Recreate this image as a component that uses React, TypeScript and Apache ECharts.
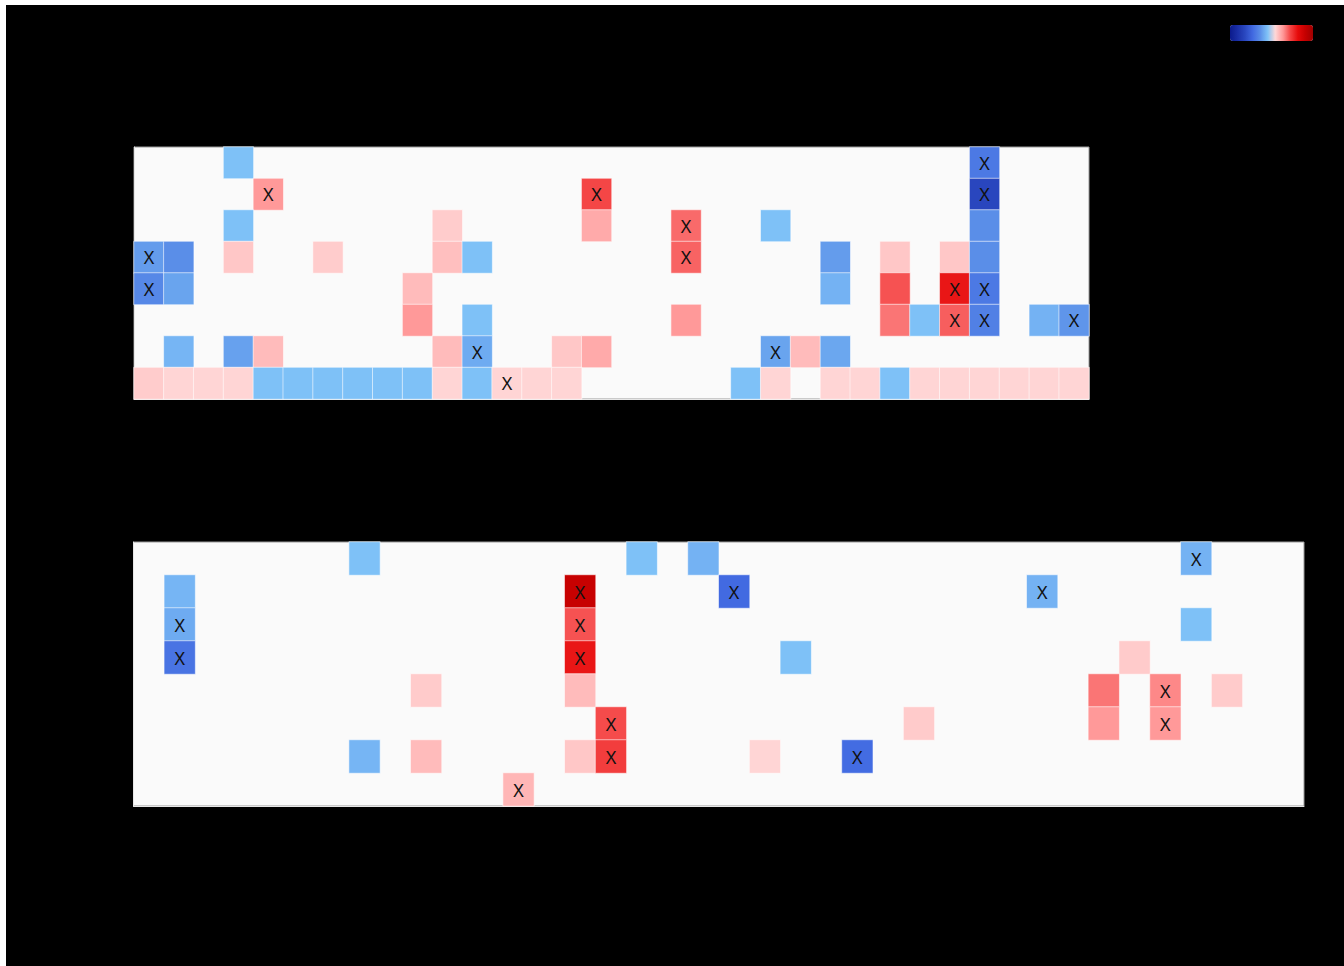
import React, { useEffect, useRef } from "react";
import * as echarts from "echarts";

// upper panel: 32 columns x 8 rows, [col, row, value, marked]
const topCols = Array.from({ length: 32 }, (_, i) => `C${i + 1}`);
const topRows = ["R1", "R2", "R3", "R4", "R5", "R6", "R7", "R8"];
const topCells: number[][] = [
  [3, 0, -0.2, 0], [28, 0, -0.75, 1],
  [4, 1, 0.55, 1], [15, 1, 0.9, 1], [28, 1, -1.3, 1],
  [3, 2, -0.2, 0], [10, 2, 0.25, 0], [15, 2, 0.45, 0], [18, 2, 0.75, 1], [21, 2, -0.2, 0], [28, 2, -0.55, 0],
  [0, 3, -0.45, 1], [1, 3, -0.55, 0], [3, 3, 0.28, 0], [6, 3, 0.25, 0], [10, 3, 0.33, 0], [11, 3, -0.2, 0],
  [18, 3, 0.78, 1], [23, 3, -0.45, 0], [25, 3, 0.28, 0], [27, 3, 0.28, 0], [28, 3, -0.55, 0],
  [0, 4, -0.6, 1], [1, 4, -0.4, 0], [9, 4, 0.35, 0], [23, 4, -0.3, 0], [25, 4, 0.85, 0], [27, 4, 1.2, 1], [28, 4, -0.75, 1],
  [9, 5, 0.55, 0], [11, 5, -0.2, 0], [18, 5, 0.55, 0], [25, 5, 0.7, 0], [26, 5, -0.2, 0], [27, 5, 0.8, 1],
  [28, 5, -0.68, 1], [30, 5, -0.3, 0], [31, 5, -0.5, 1],
  [1, 6, -0.28, 0], [3, 6, -0.42, 0], [4, 6, 0.35, 0], [10, 6, 0.35, 0], [11, 6, -0.35, 1], [14, 6, 0.28, 0],
  [15, 6, 0.45, 0], [21, 6, -0.4, 1], [22, 6, 0.35, 0], [23, 6, -0.38, 0],
  [0, 7, 0.25, 0], [1, 7, 0.2, 0], [2, 7, 0.2, 0], [3, 7, 0.2, 0], [4, 7, -0.2, 0], [5, 7, -0.2, 0],
  [6, 7, -0.2, 0], [7, 7, -0.2, 0], [8, 7, -0.2, 0], [9, 7, -0.2, 0], [10, 7, 0.2, 0], [11, 7, -0.2, 0],
  [12, 7, 0.2, 1], [13, 7, 0.2, 0], [14, 7, 0.2, 0], [20, 7, -0.2, 0], [21, 7, 0.2, 0], [23, 7, 0.2, 0],
  [24, 7, 0.2, 0], [25, 7, -0.2, 0], [26, 7, 0.2, 0], [27, 7, 0.2, 0], [28, 7, 0.2, 0], [29, 7, 0.2, 0],
  [30, 7, 0.2, 0], [31, 7, 0.2, 0],
];

// lower panel: 38 columns x 8 rows
const bottomCols = Array.from({ length: 38 }, (_, i) => `D${i + 1}`);
const bottomRows = ["Q1", "Q2", "Q3", "Q4", "Q5", "Q6", "Q7", "Q8"];
const bottomCells: number[][] = [
  [7, 0, -0.2, 0], [16, 0, -0.2, 0], [18, 0, -0.3, 0], [34, 0, -0.3, 1],
  [1, 1, -0.28, 0], [14, 1, 1.6, 1], [19, 1, -0.9, 1], [29, 1, -0.3, 1],
  [1, 2, -0.35, 1], [14, 2, 0.85, 1], [34, 2, -0.2, 0],
  [1, 3, -0.8, 1], [14, 3, 1.2, 1], [21, 3, -0.2, 0], [32, 3, 0.26, 0],
  [9, 4, 0.26, 0], [14, 4, 0.35, 0], [31, 4, 0.7, 0], [33, 4, 0.62, 1], [35, 4, 0.26, 0],
  [15, 5, 0.88, 1], [25, 5, 0.26, 0], [31, 5, 0.55, 0], [33, 5, 0.55, 1],
  [7, 6, -0.28, 0], [9, 6, 0.35, 0], [14, 6, 0.28, 0], [15, 6, 0.95, 1], [20, 6, 0.2, 0], [23, 6, -0.88, 1],
  [12, 7, 0.38, 1],
];

const scaleMin = -2;
const scaleMax = 2;

const palette = [
  "#0b1a8c", "#1a2fa6", "#2a48c0", "#4169e1", "#5a8ee8", "#80c4f8",
  "#ffd8d8", "#ff9a9a", "#f44444", "#e60a0a", "#c40000", "#a00000",
];

const App = () => {
  const chartRef = useRef<HTMLDivElement>(null);

  useEffect(() => {
    if (!chartRef.current) return;
    const chart = echarts.init(chartRef.current, undefined, { renderer: "svg" });

    const grids = [
      { left: 128, top: 142, width: 955, height: 252 },
      { left: 127.5, top: 537, width: 1170.5, height: 264 },
    ];

    const mainX = (data: string[], gridIndex: number) => ({
      type: "category",
      gridIndex,
      data,
      position: "bottom",
      axisLine: { lineStyle: { color: "#e6e6e6", width: 1 } },
      axisTick: { alignWithLabel: true, length: 4, lineStyle: { color: "#444" } },
      axisLabel: { show: false, color: "#000" },
      splitLine: { show: false },
    });
    const sideX = (data: string[], gridIndex: number) => ({
      type: "category",
      gridIndex,
      data,
      position: "top",
      axisLine: { show: false },
      axisTick: { alignWithLabel: true, inside: true, length: 3, lineStyle: { color: "#d8d8d8" } },
      axisLabel: { show: false },
    });
    const mainY = (data: string[], gridIndex: number) => ({
      type: "category",
      gridIndex,
      data,
      inverse: true,
      position: "left",
      axisLine: { lineStyle: { color: "#e6e6e6", width: 1 } },
      axisTick: { alignWithLabel: true, length: 4, lineStyle: { color: "#444" } },
      axisLabel: { show: false, color: "#000" },
    });
    const sideY = (data: string[], gridIndex: number) => ({
      type: "category",
      gridIndex,
      data,
      inverse: true,
      position: "right",
      axisLine: { show: false },
      axisTick: { alignWithLabel: true, inside: true, length: 3, lineStyle: { color: "#d8d8d8" } },
      axisLabel: { show: false },
    });

    const cellLabel = {
      show: true,
      color: "#111",
      fontSize: 18,
      fontFamily: "Noto Sans",
      formatter: (p: any) => (p.value[3] ? "X" : ""),
    };

    const option: any = {
      animation: false,
      backgroundColor: "#000",
      grid: grids.map((g) => ({
        ...g,
        show: true,
        backgroundColor: "#fafafa",
        borderColor: "#9a9a9a",
        borderWidth: 1,
      })),
      xAxis: [
        mainX(topCols, 0),
        sideX(topCols, 0),
        mainX(bottomCols, 1),
        sideX(bottomCols, 1),
      ],
      yAxis: [
        mainY(topRows, 0),
        sideY(topRows, 0),
        mainY(bottomRows, 1),
        sideY(bottomRows, 1),
      ],
      visualMap: {
        type: "continuous",
        min: scaleMin,
        max: scaleMax,
        dimension: 2,
        seriesIndex: [0, 1],
        orient: "horizontal",
        calculable: false,
        left: 1219,
        top: 15,
        padding: 5,
        itemWidth: 16,
        itemHeight: 83,
        textStyle: { color: "#000" },
        inRange: { color: palette },
      },
      series: [
        {
          type: "heatmap",
          xAxisIndex: 0,
          yAxisIndex: 0,
          data: topCells,
          label: cellLabel,
          itemStyle: { borderColor: "rgba(255,255,255,0.55)", borderWidth: 1 },
        },
        {
          type: "heatmap",
          xAxisIndex: 2,
          yAxisIndex: 2,
          data: bottomCells,
          label: cellLabel,
          itemStyle: { borderColor: "rgba(255,255,255,0.55)", borderWidth: 1 },
        },
      ],
    };

    chart.setOption(option);
    return () => chart.dispose();
  }, []);

  return (
    <div
      ref={chartRef}
      style={{ position: "absolute", left: 6, top: 5, width: 1338, height: 961 }}
    />
  );
};

export default App;
